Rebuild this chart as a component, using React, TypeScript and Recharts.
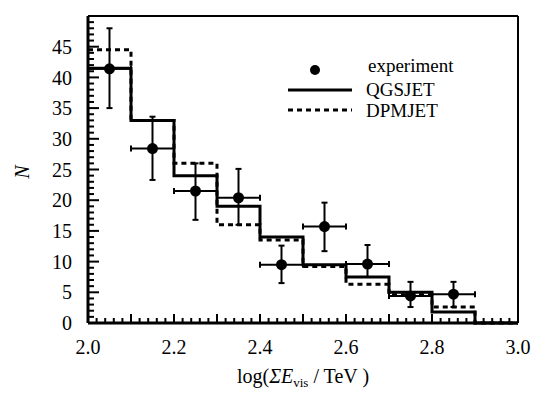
import React from "react";
import { ComposedChart, Line, Scatter, ErrorBar, XAxis, YAxis, ReferenceLine } from "recharts";

// bin edges of the histogram, log(sum E_vis / TeV)
const binEdges = [2.0, 2.1, 2.2, 2.3, 2.4, 2.5, 2.6, 2.7, 2.8, 2.9, 3.0];
// model predictions, one value per bin
const qgsjet = [41.5, 33, 24, 19, 14, 9.5, 7.5, 5, 1.8, 0];
const dpmjet = [44.5, 33, 26, 16, 13.5, 9.2, 6.3, 4.6, 2.6, 0];
// experimental points
const expX = [2.05, 2.15, 2.25, 2.35, 2.45, 2.55, 2.65, 2.75, 2.85];
const expN = [41.4, 28.4, 21.5, 20.4, 9.5, 15.7, 9.6, 4.4, 4.7];
const expErrLow = [6.4, 5.1, 4.7, 4.4, 3.0, 4.0, 2.1, 1.8, 2.1];
const expErrHigh = [6.6, 5.2, 4.5, 4.7, 3.1, 3.9, 3.1, 2.3, 2.0];
const expErrX = 0.05;

// labelled ticks
const xTicks = [2.0, 2.2, 2.4, 2.6, 2.8, 3.0];
const yTicks = [0, 5, 10, 15, 20, 25, 30, 35, 40, 45];
// inward tick marks (minor ones too)
const xMinorTicks = Array.from({ length: 51 }, (_, i) => +(2 + i * 0.02).toFixed(2));
const yMinorTicks = Array.from({ length: 51 }, (_, i) => i);

const FONT = '"Liberation Serif", "Times New Roman", serif';

const histData = binEdges.map((x, i) => ({
  x,
  q: qgsjet[Math.min(i, qgsjet.length - 1)],
  d: dpmjet[Math.min(i, dpmjet.length - 1)],
}));

const expData = expX.map((x, i) => ({
  x,
  y: expN[i],
  ey: [expErrLow[i], expErrHigh[i]],
  ex: expErrX,
}));

const isBinEdge = (v: number) => Math.abs(v * 10 - Math.round(v * 10)) < 1e-6;

// tick marks placed through the chart scales, drawn as tiny scatter shapes
const xTickMarks = xMinorTicks.map((v) => ({ x: v, y: 0, major: isBinEdge(v) }));
const yTickMarks = yMinorTicks.map((v) => ({ x: 2, y: v, major: v % 5 === 0 }));

const XTickShape = (props: any) => {
  const cx = Number(props.cx);
  const cy = Number(props.cy);
  const len = props.payload && props.payload.major ? 9 : 5;
  return <path d={`M${cx},${cy}V${cy - len}`} stroke="#000" strokeWidth={2} fill="none" />;
};

const YTickShape = (props: any) => {
  const cx = Number(props.cx);
  const cy = Number(props.cy);
  const len = props.payload && props.payload.major ? 11 : 6;
  return <path d={`M${cx},${cy}H${cx + len}`} stroke="#000" strokeWidth={2} fill="none" />;
};

const XLabel = ({ viewBox }: any) => {
  const cx = viewBox.x + viewBox.width / 2;
  return (
    <text x={cx} y={viewBox.y + 60} textAnchor="middle" fontFamily={FONT} fontSize={20} fill="#000">
      log(<tspan fontStyle="italic">ΣE</tspan>
      <tspan fontSize={13} dy={4}>vis</tspan>
      <tspan dy={-4}> / TeV )</tspan>
    </text>
  );
};

const YLabel = ({ viewBox }: any) => {
  const x = viewBox.x + 22;
  const y = viewBox.y + 156;
  return (
    <text x={x} y={y} textAnchor="middle" dominantBaseline="central" transform={`rotate(-90, ${x}, ${y})`}
      fontFamily={FONT} fontSize={20} fontStyle="italic" fill="#000">
      N
    </text>
  );
};

const Dot = (props: any) => <circle cx={props.cx} cy={props.cy} r={5.5} fill="#000" />;

const LegendBox = () => (
  <svg width={536} height={395} style={{ position: "absolute", left: 0, top: 0, pointerEvents: "none" }}>
    <g fontFamily={FONT} fontSize={19} fill="#000">
      <circle cx={315} cy={70} r={5} fill="#000" />
      <text x={368} y={72}>experiment</text>
      <line x1={288} x2={352} y1={90} y2={90} stroke="#000" strokeWidth={3} />
      <text x={366} y={96}>QGSJET</text>
      <line x1={288} x2={352} y1={110} y2={110} stroke="#000" strokeWidth={3} strokeDasharray="5 4" />
      <text x={366} y={117}>DPMJET</text>
    </g>
  </svg>
);

export default function App() {
  return (
    <div style={{ position: "absolute", left: 0, top: 0, width: 536, height: 395, background: "#fff" }}>
      <ComposedChart width={536} height={395} margin={{ top: 16, right: 18, bottom: 0, left: 0 }}>
        <XAxis
          dataKey="x"
          type="number"
          domain={[2, 3]}
          ticks={xTicks}
          interval={0}
          tickFormatter={(v: number) => v.toFixed(1)}
          tickLine={false}
          tickSize={0}
          tickMargin={17}
          axisLine={{ stroke: "#000", strokeWidth: 3 }}
          tick={{ fill: "#000", fontSize: 20, fontFamily: FONT }}
          height={72}
          label={<XLabel />}
        />
        <YAxis
          type="number"
          domain={[0, 50]}
          ticks={yTicks}
          interval={0}
          tickLine={false}
          tickSize={0}
          tickMargin={16}
          axisLine={{ stroke: "#000", strokeWidth: 3 }}
          tick={{ fill: "#000", fontSize: 20, fontFamily: FONT }}
          width={88}
          label={<YLabel />}
        />
        <ReferenceLine y={50} stroke="#000" strokeWidth={2} />
        <ReferenceLine x={3} stroke="#000" strokeWidth={2} />
        <Scatter data={xTickMarks} dataKey="y" shape={<XTickShape />} legendType="none" isAnimationActive={false} />
        <Scatter data={yTickMarks} dataKey="y" shape={<YTickShape />} legendType="none" isAnimationActive={false} />
        <Line data={histData} dataKey="q" type="stepAfter" stroke="#000" strokeWidth={3} dot={false}
          isAnimationActive={false} />
        <Line data={histData} dataKey="d" type="stepAfter" stroke="#000" strokeWidth={3} strokeDasharray="5 4"
          dot={false} isAnimationActive={false} />
        <Scatter data={expData} dataKey="y" shape={<Dot />} isAnimationActive={false}>
          <ErrorBar dataKey="ey" direction="y" width={3} stroke="#000" strokeWidth={2} isAnimationActive={false} />
          <ErrorBar dataKey="ex" direction="x" width={3} stroke="#000" strokeWidth={2} isAnimationActive={false} />
        </Scatter>
      </ComposedChart>
      <LegendBox />
    </div>
  );
}
